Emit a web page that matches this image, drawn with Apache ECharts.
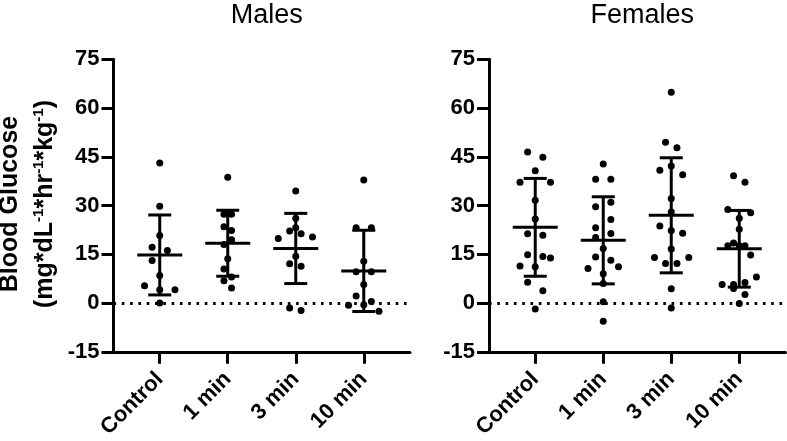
<!DOCTYPE html>
<html>
<head>
<meta charset="utf-8">
<script src="https://cdn.jsdelivr.net/npm/echarts@6/dist/echarts.min.js"></script>
<style>
html,body{margin:0;padding:0;background:#fff;}
#chart{width:787px;height:441px;}
</style>
</head>
<body>
<div id="chart"></div>
<script>
// ---- data ----
const categories = ['Control', '1 min', '3 min', '10 min'];
const panelTitles = ['Males', 'Females'];
const yTicks = [-15, 0, 15, 30, 45, 60, 75];

// Males: individual values per group, and their horizontal jitter lane
const malesControl = [43.1, 29.8, 20.8, 17.2, 16.2, 13.1, 8.5, 5.3, 4.1, 4.1, 0.0];
const malesControlLane = [0, 0, 0, -1, 1, -1, 0, -2, 0, 2, 0];
const males1min = [38.7, 27.3, 27.3, 23.5, 22.3, 19.5, 18.0, 13.6, 10.5, 8.0, 6.9, 4.6];
const males1minLane = [0, -0.5, 0.5, -0.5, 0.5, 0.5, -0.5, 0, -0.5, 0.5, -0.5, 0.5];
const males3min = [34.5, 26.1, 23.2, 22.2, 21.3, 19.9, 20.3, 14.4, 12.1, 11.3, -1.5, -2.3];
const males3minLane = [0, 0, 0, -0.8, 0.7, -2.3, 2.2, 0, -0.8, 0.7, -0.8, 0.7];
const males10min = [37.9, 23.2, 23.2, 12.9, 9.6, 9.6, 5.7, 2.2, -0.7, -0.5, 0.5, -2.5];
const males10minLane = [0, -1, 1, 0, -1, 1, 0, -1, -2, 0, 1, 2];
const malesMean = [14.8, 18.4, 16.8, 9.9];
const malesSD = [12.3, 10.15, 10.8, 12.5];

// Females
const femalesControl = [46.5, 44.9, 40.7, 37.2, 37.2, 31.6, 25.9, 21.3, 20.9, 14.9, 14.3, 13.9, 11.4, 11.2, 6.4, 3.8, -1.8];
const femalesControlLane = [-1, 1, 0, -2, 2, 0, 0, -1, 1, -1, 1, 2, -2, 0, -1, 1, 0];
const females1min = [42.8, 38.1, 38.1, 29.6, 31.0, 25.7, 23.2, 20.2, 21.4, 16.8, 14.2, 13.2, 10.6, 11.2, 9.0, 6.0, 0.4, -5.6];
const females1minLane = [0, -1, 1, -1, 1, 1, -1, -1, 1, 0, -1, 1, -2, 2, 0, 0, 0, 0];
const females3min = [64.9, 49.5, 47.8, 40.9, 42.2, 39.5, 32.2, 28.0, 23.7, 22.3, 21.5, 16.6, 14.0, 14.0, 12.2, 12.2, 4.4, -1.5];
const females3minLane = [0, -0.75, 0.75, -1.5, 0, 1.5, 0, 0, -1.5, 0, 1.5, 0, -2.2, 2.3, -0.75, 0.75, 0, 0];
const females10min = [39.2, 37.2, 28.8, 27.8, 26.1, 22.7, 18.5, 17.6, 17.6, 17.6, 14.8, 8.0, 5.7, 5.7, 6.3, 4.5, 2.6, -0.1];
const females10minLane = [-0.75, 0.75, -1.5, 1.5, 0, 0, -0.75, -1.5, 0, 0.75, 1.5, 2.25, -2.25, -0.75, 0.75, -0.75, 0.75, 0];
const femalesMean = [23.3, 19.3, 27.0, 16.7];
const femalesSD = [15.05, 13.4, 17.7, 11.8];

// ---- build ----
const JIT = 0.112; // lane width in category units
const panels = [
  {groups: [malesControl, males1min, males3min, males10min],
   lanes: [malesControlLane, males1minLane, males3minLane, males10minLane],
   mean: malesMean, sd: malesSD},
  {groups: [femalesControl, females1min, females3min, females10min],
   lanes: [femalesControlLane, females1minLane, females3minLane, females10minLane],
   mean: femalesMean, sd: femalesSD}
];

const FONT = "'Liberation Sans', Arial, Helvetica, sans-serif";
const gridLefts = [113.5, 489];
const gridW = 296.5;
const gridTop = 59.3;
const gridH = 295.7;

const grids = [], xAxes = [], yAxes = [], series = [], titles = [];
panels.forEach((p, k) => {
  grids.push({left: gridLefts[k], width: gridW, top: gridTop, height: gridH, containLabel: false});
  titles.push({
    text: panelTitles[k], left: gridLefts[k] + gridW / 2, top: -3, textAlign: 'center',
    textStyle: {fontFamily: FONT, fontSize: 27, fontWeight: 'normal', color: '#000'}
  });
  xAxes.push({
    type: 'value', gridIndex: k, min: -0.68, max: 3.68,
    axisLine: {onZero: false, lineStyle: {color: '#000', width: 3}},
    axisTick: {show: true, length: 12, lineStyle: {color: '#000', width: 3}, customValues: [0, 1, 2, 3]},
    axisLabel: {
      customValues: [0, 1, 2, 3], rotate: 45, margin: 24,
      formatter: v => categories[Math.round(v)],
      fontFamily: FONT, fontSize: 22, fontWeight: 'bold', color: '#000'
    },
    splitLine: {show: false}
  });
  yAxes.push({
    type: 'value', gridIndex: k, min: yTicks[0], max: yTicks[yTicks.length - 1], interval: 15,
    axisLine: {show: true, onZero: false, lineStyle: {color: '#000', width: 3}},
    axisTick: {show: true, length: 12, lineStyle: {color: '#000', width: 3}},
    axisLabel: {margin: 14, fontFamily: FONT, fontSize: 22, fontWeight: 'bold', color: '#000'},
    splitLine: {show: false}
  });
  const pts = [];
  p.groups.forEach((vals, gi) => {
    vals.forEach((v, i) => pts.push([gi + p.lanes[gi][i] * JIT, v]));
  });
  series.push({
    type: 'scatter', xAxisIndex: k, yAxisIndex: k, data: pts,
    symbol: 'circle', symbolSize: 7, itemStyle: {color: '#000', opacity: 1}, silent: true,
    markLine: {
      silent: true, symbol: 'none', label: {show: false},
      lineStyle: {color: '#000', width: 3, type: [2.6, 5.7], opacity: 1},
      data: [{yAxis: 0}]
    }
  });
  series.push({
    type: 'custom', xAxisIndex: k, yAxisIndex: k,
    data: p.mean.map((m, gi) => [gi, m, p.sd[gi]]),
    encode: {x: 0, y: 1},
    renderItem: function (params, api) {
      const x = api.value(0), m = api.value(1), s = api.value(2);
      const c = api.coord([x, m]);
      const t = api.coord([x, m + s]);
      const b = api.coord([x, m - s]);
      const st = {stroke: '#000', lineWidth: 3, fill: null};
      return {type: 'group', children: [
        {type: 'line', shape: {x1: c[0] - 22.5, y1: c[1], x2: c[0] + 22.5, y2: c[1]}, style: st},
        {type: 'line', shape: {x1: t[0], y1: t[1], x2: b[0], y2: b[1]}, style: st},
        {type: 'line', shape: {x1: t[0] - 11.5, y1: t[1], x2: t[0] + 11.5, y2: t[1]}, style: st},
        {type: 'line', shape: {x1: b[0] - 11.5, y1: b[1], x2: b[0] + 11.5, y2: b[1]}, style: st}
      ]};
    },
    silent: true, z: 3
  });
});

const chart = echarts.init(document.getElementById('chart'), null, {renderer: 'canvas'});
chart.setOption({
  animation: false,
  backgroundColor: '#fff',
  title: titles,
  grid: grids,
  xAxis: xAxes,
  yAxis: yAxes,
  series: series,
  graphic: [
    {type: 'text', x: 10.5, y: 204, rotation: Math.PI / 2,
     style: {text: 'Blood Glucose', align: 'center', verticalAlign: 'middle',
             font: "bold 25px 'Liberation Sans', Arial, sans-serif", fill: '#000'}},
    {type: 'text', x: 45, y: 204, rotation: Math.PI / 2,
     style: {
       text: '(mg*dL{s|-1}*hr{s|-1}*kg{s|-1})', align: 'center', verticalAlign: 'middle',
       font: "bold 25px 'Liberation Sans', Arial, sans-serif", fill: '#000',
       rich: {s: {fontSize: 15, fontWeight: 'bold', fontFamily: FONT, verticalAlign: 'top', fill: '#000', lineHeight: 28}}
     }}
  ]
});
</script>
</body>
</html>
